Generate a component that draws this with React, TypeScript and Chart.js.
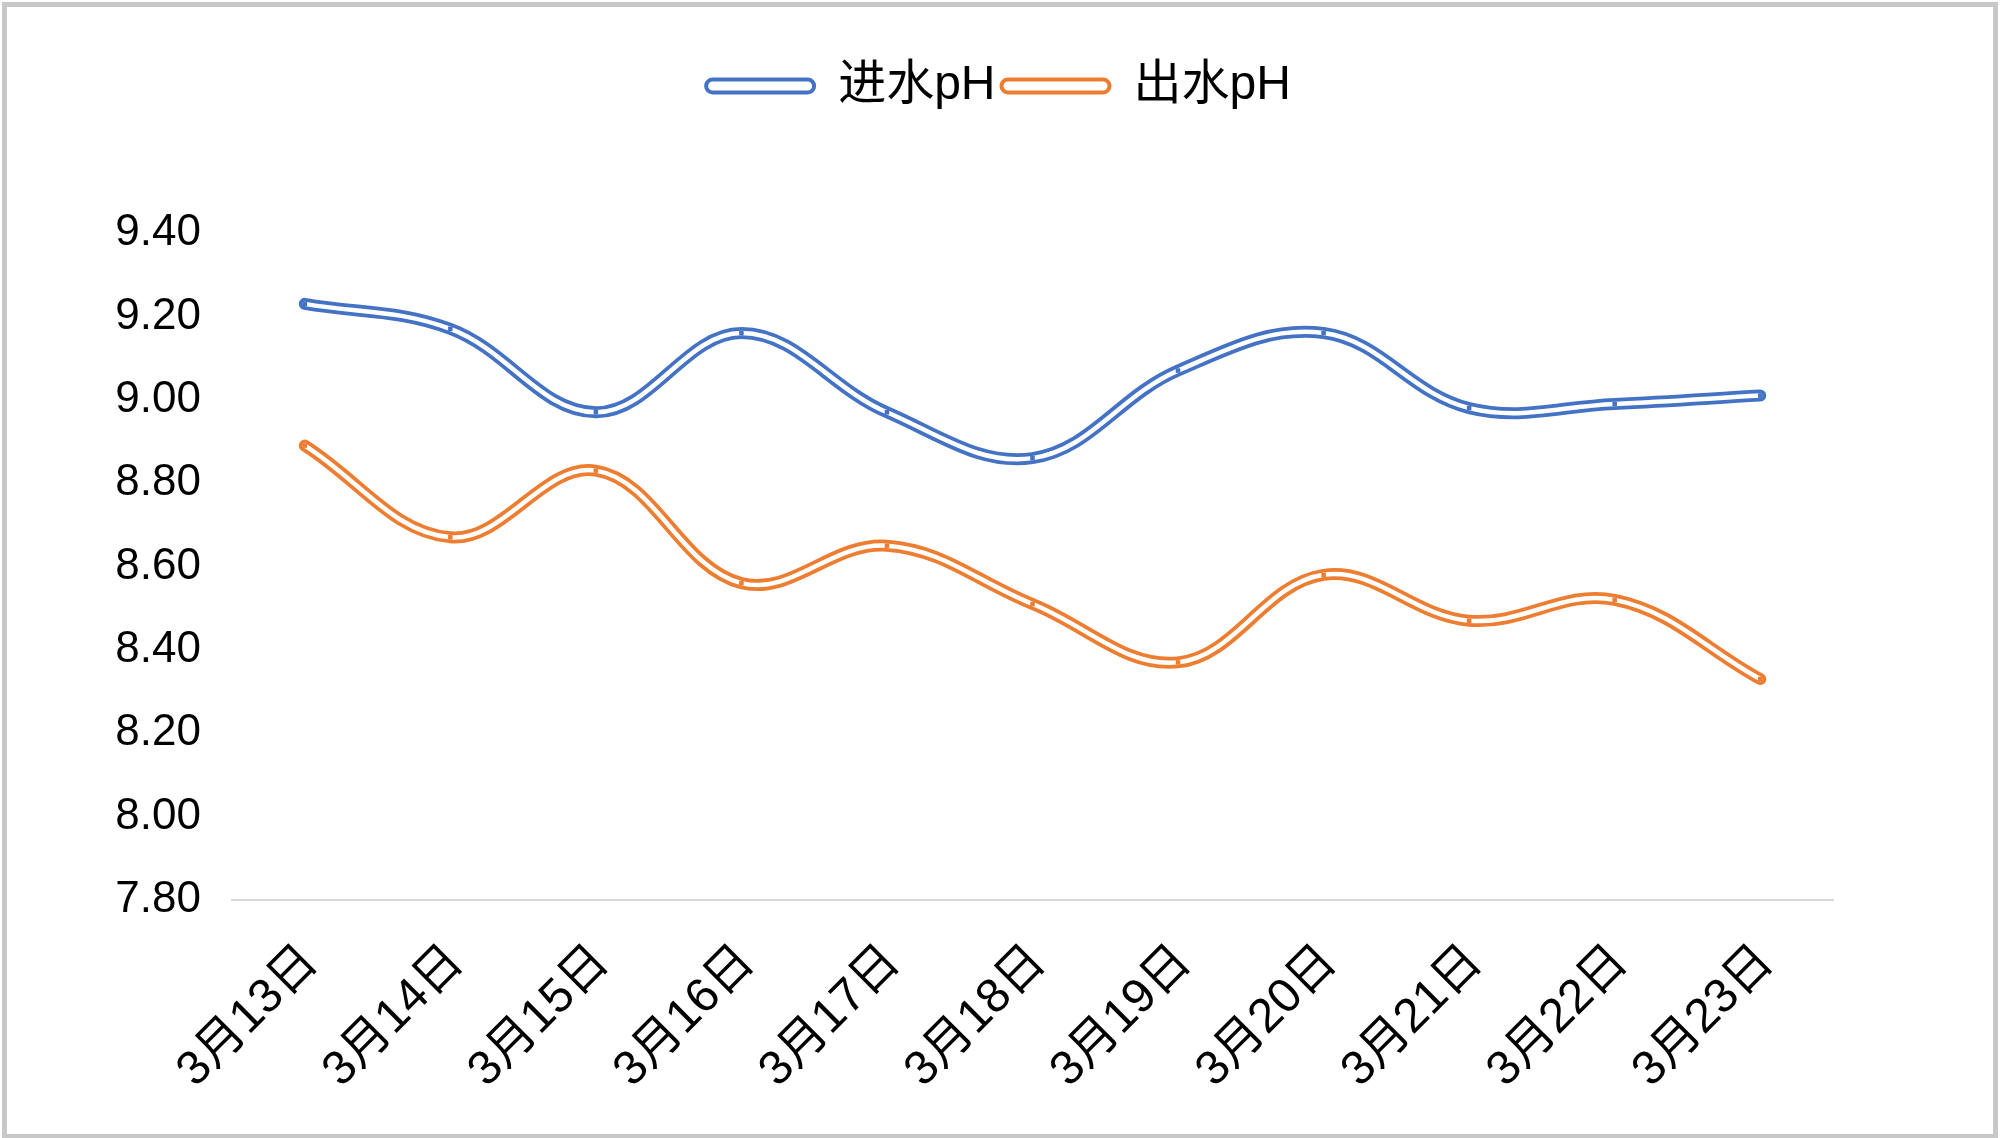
import React, { useEffect, useRef } from "react";
import { Chart, registerables } from "chart.js";

Chart.register(...registerables);

const categories = ["3月13日", "3月14日", "3月15日", "3月16日", "3月17日", "3月18日", "3月19日", "3月20日", "3月21日", "3月22日", "3月23日"];
const inletPH = [9.23, 9.17, 8.97, 9.16, 8.97, 8.86, 9.07, 9.16, 8.98, 8.99, 9.01];
const outletPH = [8.89, 8.67, 8.83, 8.56, 8.65, 8.51, 8.37, 8.58, 8.47, 8.52, 8.33];
const seriesNames = ["进水pH", "出水pH"];
const seriesColors = ["#4472C4", "#ED7D31"];
const yMin = 7.8;
const yMax = 9.4;
const yStep = 0.2;

const FONT = '"Liberation Sans", Arial, "Noto Sans CJK SC", sans-serif';

export default function App() {
  const ref = useRef<HTMLCanvasElement | null>(null);

  useEffect(() => {
    const canvas = ref.current;
    if (!canvas) return;

    const frame = {
      id: "frame",
      beforeDraw(chart: any) {
        const ctx = chart.ctx;
        ctx.save();
        ctx.fillStyle = "#ffffff";
        ctx.fillRect(0, 0, chart.width, chart.height);
        ctx.strokeStyle = "#c8c8c8";
        ctx.lineWidth = 5;
        ctx.strokeRect(4.5, 4.5, chart.width - 9, chart.height - 6);
        ctx.restore();
      },
    };

    const legendGap = {
      id: "legendGap",
      beforeInit(chart: any) {
        const legend = chart.legend;
        if (!legend) return;
        const orig = legend.fit;
        legend.fit = function () {
          orig.call(this);
          this.height += 113;
        };
      },
      afterLayout(chart: any) {
        const legend = chart.legend;
        if (!legend) return;
        legend.left += 82;
        legend.right += 82;
      },
    };

    const mk = (name: string, data: number[], color: string) => [
      {
        label: name,
        data,
        borderColor: color,
        backgroundColor: "#ffffff",
        borderWidth: 12,
        tension: 0.38,
        pointRadius: 0,
        borderCapStyle: "round",
        borderJoinStyle: "round",
        fill: false,
        order: 2,
      },
      {
        label: name + "_inner",
        data,
        borderColor: "#ffffff",
        backgroundColor: color,
        borderWidth: 4.5,
        tension: 0.38,
        pointRadius: 3.2,
        pointStyle: "rect",
        pointBackgroundColor: color,
        pointBorderWidth: 0,
        borderCapStyle: "round",
        fill: false,
        order: 1,
      },
    ];

    const chart = new Chart(canvas, {
      type: "line",
      data: {
        labels: categories,
        datasets: [
          ...mk(seriesNames[0], inletPH, seriesColors[0]),
          ...mk(seriesNames[1], outletPH, seriesColors[1]),
        ] as any,
      },
      plugins: [frame, legendGap],
      options: {
        animation: false,
        responsive: false,
        maintainAspectRatio: false,
        layout: { padding: { top: 56, right: 167, bottom: 0, left: 0 } },
        plugins: {
          tooltip: { enabled: false },
          legend: {
            position: "top",
            labels: {
              font: { family: FONT, size: 48 },
              color: "#000000",
              boxWidth: 108,
              boxHeight: 13,
              padding: 6,
              useBorderRadius: true,
              borderRadius: 6.5,
              generateLabels: (chart: any) =>
                chart.data.datasets
                  .map((ds: any, i: number) => ({
                    text: ds.label,
                    fillStyle: "#ffffff",
                    strokeStyle: ds.borderColor,
                    lineWidth: 4,
                    borderRadius: 6.5,
                    hidden: false,
                    datasetIndex: i,
                    fontColor: "#000000",
                  }))
                  .filter((it: any) => !String(it.text).endsWith("_inner")),
            },
          },
        },
        scales: {
          x: {
            type: "category",
            offset: true,
            grid: { display: false },
            border: { display: true, color: "#d9d9d9", width: 2 },
            ticks: {
              font: { family: FONT, size: 48 },
              color: "#000000",
              minRotation: 45,
              maxRotation: 45,
              autoSkip: false,
              padding: 26,
              labelOffset: 6,
            },
            afterFit: (scale: any) => {
              scale.height = 238;
            },
          },
          y: {
            min: yMin,
            max: yMax,
            grid: { display: false, drawTicks: false },
            border: { display: false },
            ticks: {
              stepSize: yStep,
              font: { family: FONT, size: 44 },
              color: "#000000",
              padding: 31,
              callback: (v: any) => Number(v).toFixed(2),
            },
            afterFit: (scale: any) => {
              scale.width = 232;
            },
          },
        },
      } as any,
    });

    return () => chart.destroy();
  }, []);

  return (
    <div style={{ position: "fixed", left: 0, top: 0, width: 2000, height: 1138 }}>
      <canvas ref={ref} width={2000} height={1138} style={{ width: 2000, height: 1138, display: "block" }} />
    </div>
  );
}
